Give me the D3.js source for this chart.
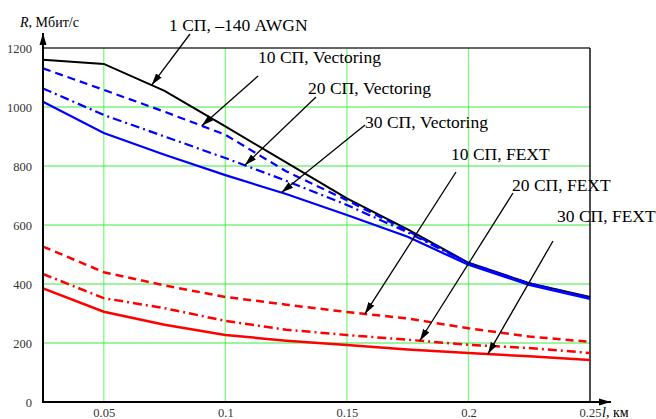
<!DOCTYPE html>
<html>
<head>
<meta charset="utf-8">
<script src="https://cdn.jsdelivr.net/npm/d3@7"></script>
<style>
	body { margin: 0; background: #fff; }
	text { font-family: "Liberation Serif", "Times New Roman", serif; }
</style>
</head>
<body>
<div id="chart"></div>
<script>
// cable length, km
var lengths = [0.025, 0.05, 0.075, 0.1, 0.125, 0.15, 0.175, 0.2, 0.225, 0.25];

// bit rate, Mbit/s
var awgn1 = [1160, 1146, 1055, 934, 812, 690, 585, 472, 403, 356];
var vec10 = [1131, 1058, 984, 906, 782, 684, 580, 471, 402, 354];
var vec20 = [1063, 973, 900, 827, 750, 668, 575, 470, 401, 352];
var vec30 = [1018, 912, 838, 769, 705, 634, 560, 465, 397, 349];
var fext10 = [527, 440, 395, 356, 330, 305, 283, 250, 222, 204];
var fext20 = [434, 352, 318, 275, 245, 227, 211, 194, 183, 166];
var fext30 = [385, 306, 262, 227, 208, 193, 178, 166, 155, 142];

var seriesNames = ['1 СП, –140 AWGN', '10 СП, Vectoring', '20 СП, Vectoring', '30 СП, Vectoring',
	'10 СП, FEXT', '20 СП, FEXT', '30 СП, FEXT'];
// point on the curve each callout arrow points at (km)
var calloutAt = [0.0697, 0.0903, 0.108, 0.1231, 0.1574, 0.180, 0.208];

var xTicks = [0.05, 0.1, 0.15, 0.2, 0.25];
var yTicks = [0, 200, 400, 600, 800, 1000, 1200];

var allSeries = [awgn1, vec10, vec20, vec30, fext10, fext20, fext30];
var colors = ['#000', '#0000ff', '#0000ff', '#0000ff', '#ff0000', '#ff0000', '#ff0000'];
var dashes = [null, '8,5', '9,4,2,4', null, '8,5', '9,4,2,4', null];
var widths = [2, 2.2, 2.2, 2.2, 2.5, 2.5, 2.5];

// label anchor (left, baseline) and arrow tail
var labelPos = [[169, 31], [258, 63], [308, 94], [365, 128], [451, 160], [512, 191], [557, 222]];
var tailPos = [[190, 34], [258, 76], [316, 97], [365, 125], [456, 172], [513, 193], [553, 241]];

var x = d3.scaleLinear()
	.domain([0.025, 0.25])
	.range([43, 590]);

var y = d3.scaleLinear()
	.domain([0, 1200])
	.range([402, 48]);

var svg = d3.select('#chart').append('svg')
	.attr('width', 656)
	.attr('height', 419);

svg.append('defs').append('marker')
	.attr('id', 'arrow')
	.attr('markerUnits', 'userSpaceOnUse')
	.attr('viewBox', '0 -4 12 8')
	.attr('refX', 12)
	.attr('refY', 0)
	.attr('markerWidth', 12)
	.attr('markerHeight', 8)
	.attr('orient', 'auto')
	.append('path')
	.attr('d', 'M0,-3.5L12,0L0,3.5Z')
	.attr('fill', '#000');

// grid
svg.append('g')
	.selectAll('line')
	.data(xTicks.slice(0, 4))
	.enter()
	.append('line')
	.attr('x1', function (d) { return x(d); })
	.attr('x2', function (d) { return x(d); })
	.attr('y1', y(1200))
	.attr('y2', y(0))
	.attr('stroke', '#7dfa7d')
	.attr('stroke-width', 1.3);

svg.append('g')
	.selectAll('line')
	.data(yTicks.slice(1, 6))
	.enter()
	.append('line')
	.attr('x1', x(0.025))
	.attr('x2', x(0.25))
	.attr('y1', function (d) { return y(d); })
	.attr('y2', function (d) { return y(d); })
	.attr('stroke', '#3ee83e')
	.attr('stroke-width', 1);

// frame top / right
svg.append('line')
	.attr('x1', x(0.025)).attr('x2', x(0.25))
	.attr('y1', y(1200)).attr('y2', y(1200))
	.attr('stroke', '#333').attr('stroke-width', 1.5);
svg.append('line')
	.attr('x1', x(0.25)).attr('x2', x(0.25))
	.attr('y1', y(1200)).attr('y2', y(0))
	.attr('stroke', '#111').attr('stroke-width', 1.5);

// series
var line = d3.line()
	.x(function (d, i) { return x(lengths[i]); })
	.y(function (d) { return y(d); });

svg.append('g')
	.selectAll('path')
	.data(allSeries)
	.enter()
	.append('path')
	.attr('d', function (d) { return line(d); })
	.attr('fill', 'none')
	.attr('stroke', function (d, i) { return colors[i]; })
	.attr('stroke-width', function (d, i) { return widths[i]; })
	.attr('stroke-dasharray', function (d, i) { return dashes[i]; });

// axes
var yAxis = svg.append('g')
	.attr('transform', 'translate(' + x(0.025) + ',0)')
	.call(d3.axisLeft(y).tickValues(yTicks).tickSize(0).tickPadding(11)
		.tickFormat(function (d) { return String(d); }));
yAxis.select('.domain').remove();
yAxis.selectAll('text')
	.attr('font-size', '12.5px')
	.attr('fill', '#333')
	.style('font-family', '"Liberation Serif", serif');

var xAxis = svg.append('g')
	.attr('transform', 'translate(0,' + y(0) + ')')
	.call(d3.axisBottom(x).tickValues(xTicks).tickSize(0).tickPadding(6.5)
		.tickFormat(function (d) { return String(d); }));
xAxis.select('.domain').remove();
xAxis.selectAll('text')
	.attr('font-size', '12.5px')
	.attr('fill', '#333')
	.style('font-family', '"Liberation Serif", serif');

// axis lines with arrows
svg.append('line')
	.attr('x1', x(0.025)).attr('x2', x(0.025))
	.attr('y1', y(0) + 1).attr('y2', 33)
	.attr('stroke', '#000').attr('stroke-width', 2)
	.attr('marker-end', 'url(#arrow)');
svg.append('line')
	.attr('x1', x(0.025) - 1).attr('x2', 611)
	.attr('y1', y(0)).attr('y2', y(0))
	.attr('stroke', '#000').attr('stroke-width', 2)
	.attr('marker-end', 'url(#arrow)');

var yLabel = svg.append('text')
	.attr('x', 20)
	.attr('y', 27)
	.attr('font-size', '14px');
yLabel.append('tspan').attr('font-style', 'italic').text('R');
yLabel.append('tspan').text(', Мбит/с');

var xLabel = svg.append('text')
	.attr('x', 602)
	.attr('y', 417)
	.attr('font-size', '14px');
xLabel.append('tspan').attr('font-style', 'italic').text('l');
xLabel.append('tspan').text(', км');

// callouts
function valueAt(series, l) {
	return d3.scaleLinear().domain(lengths).range(series)(l);
}

svg.append('g')
	.selectAll('line')
	.data(calloutAt)
	.enter()
	.append('line')
	.attr('x1', function (d, i) { return tailPos[i][0]; })
	.attr('y1', function (d, i) { return tailPos[i][1]; })
	.attr('x2', function (d) { return x(d); })
	.attr('y2', function (d, i) { return y(valueAt(allSeries[i], d)); })
	.attr('stroke', '#000')
	.attr('stroke-width', 1.3)
	.attr('marker-end', 'url(#arrow)');

svg.append('g')
	.selectAll('text')
	.data(seriesNames)
	.enter()
	.append('text')
	.attr('x', function (d, i) { return labelPos[i][0]; })
	.attr('y', function (d, i) { return labelPos[i][1]; })
	.attr('font-size', '17.5px')
	.attr('fill', '#000')
	.text(function (d) { return d; });
</script>
</body>
</html>
